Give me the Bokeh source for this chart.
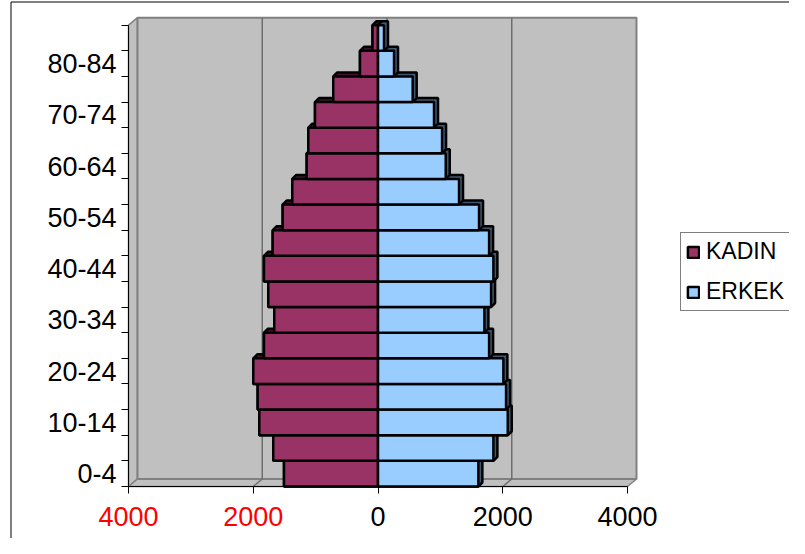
from bokeh.plotting import figure
from bokeh.models import Range1d, FixedTicker, Legend, LegendItem, LinearAxis
from bokeh.embed import file_html
from bokeh.resources import INLINE

# ---- data ----
age_groups = ["0-4", "5-9", "10-14", "15-19", "20-24", "25-29", "30-34", "35-39",
              "40-44", "45-49", "50-54", "55-59", "60-64", "65-69", "70-74",
              "75-79", "80-84", "85+"]
kadin = [1507, 1679, 1903, 1929, 1999, 1828, 1663, 1759, 1828, 1688, 1528, 1374,
         1143, 1117, 1010, 717, 289, 88]
erkek = [1609, 1850, 2080, 2053, 2010, 1781, 1706, 1813, 1850, 1781, 1620, 1299,
         1086, 1027, 898, 556, 257, 96]
series_names = ["KADIN", "ERKEK"]
series_colors = ["#993366", "#99CCFF"]
series_side_colors = ["#3d1428", "#3f5770"]
x_ticks = [-4000, -2000, 0, 2000, 4000]
x_tick_labels = ["4000", "2000", "0", "2000", "4000"]
x_tick_colors = ["#FF0000", "#FF0000", "#000000", "#000000", "#000000"]

# ---- layout (pixels, measured from the canvas top-left) ----
W, H = 789, 538
AX_LEFT, AX_RIGHT = 128.0, 627.0      # pixel x of first / last x tick
AX_BOTTOM, AX_TOP = 486.0, 24.7       # pixel y of category axis ends
XMIN, XMAX = x_ticks[0], x_ticks[-1]
n = len(age_groups)
YMIN, YMAX = -0.5, n - 0.5

sx = (AX_RIGHT - AX_LEFT) / (XMAX - XMIN)
sy = (AX_BOTTOM - AX_TOP) / (YMAX - YMIN)
x_start = XMIN - AX_LEFT / sx
x_end = x_start + W / sx
y_start = YMIN - (H - AX_BOTTOM) / sy
y_end = y_start + H / sy


def px_x(px):
    return x_start + px / sx


def px_y(py):
    return y_end - py / sy


FONT = "Liberation Sans"

p = figure(width=W, height=H, x_range=Range1d(x_start, x_end),
           y_range=Range1d(y_start, y_end),
           output_backend="svg", toolbar_location=None,
           x_axis_location=None, y_axis_location=None,
           min_border=0, min_border_left=0, min_border_right=0,
           min_border_top=0, min_border_bottom=0)
p.grid.visible = False
p.outline_line_color = None
p.background_fill_color = "white"
p.border_fill_color = "white"

# ---- outer chart frame (left and top edges visible) ----
p.segment(x0=[px_x(10.5), px_x(10.5)], y0=[px_y(1.5), px_y(1.5)],
          x1=[px_x(10.5), px_x(W + 5)], y1=[px_y(H + 5), px_y(1.5)],
          line_color="black", line_width=1)

# ---- 3D walls ----
wx = 9 / sx
wy = 7.5 / sy
p.patch([XMIN, XMIN, XMIN + wx, XMIN + wx], [YMIN, YMAX, YMAX + wy, YMIN + wy],
        fill_color="#C0C0C0", line_color="#808080", line_width=1.5)
p.patch([XMIN, XMAX, XMAX + wx, XMIN + wx], [YMIN, YMIN, YMIN + wy, YMIN + wy],
        fill_color="#C0C0C0", line_color="#808080", line_width=1.5)
p.quad(left=XMIN + wx, right=XMAX + wx, bottom=YMIN + wy, top=YMAX + wy,
       fill_color="#C0C0C0", line_color="#808080", line_width=2)
grid_x = x_ticks[1:-1]
p.segment(x0=[g + wx for g in grid_x], y0=[YMIN + wy] * len(grid_x),
          x1=[g + wx for g in grid_x], y1=[YMAX + wy] * len(grid_x),
          line_color="#6e6e6e", line_width=1.5)
p.segment(x0=grid_x, y0=[YMIN] * len(grid_x),
          x1=[g + wx for g in grid_x], y1=[YMIN + wy] * len(grid_x),
          line_color="#6e6e6e", line_width=1.5)

# ---- bars ----
ys = list(range(n))
dx = 4 / sx
dy = 4 / sy


def extrusion(x0s, x1s):
    xs_, ys_ = [], []
    for x0, x1, yc in zip(x0s, x1s, ys):
        b, t = yc - 0.5, yc + 0.5
        xs_.append([x0, x1, x1 + dx, x1 + dx, x0 + dx, x0])
        ys_.append([b, b, b + dy, t + dy, t + dy, t])
    return xs_, ys_


fx, fy = extrusion([-v for v in kadin], [0] * n)
mx, my = extrusion([0] * n, erkek)
p.patches(fx, fy, fill_color=series_side_colors[0], line_color="black", line_width=2.5)
p.patches(mx, my, fill_color=series_side_colors[1], line_color="black", line_width=2.5)

rf = p.quad(left=[-v for v in kadin], right=0, bottom=[y - 0.5 for y in ys],
            top=[y + 0.5 for y in ys], fill_color=series_colors[0],
            line_color="black", line_width=2.5)
rm = p.quad(left=0, right=erkek, bottom=[y - 0.5 for y in ys],
            top=[y + 0.5 for y in ys], fill_color=series_colors[1],
            line_color="black", line_width=2.5)

# ---- y axis ----
ya = LinearAxis(fixed_location=XMIN, bounds=(YMIN, YMAX),
                ticker=FixedTicker(ticks=list(range(0, n, 2)),
                                   minor_ticks=[i - 0.5 for i in range(n + 1)]))
ya.major_label_overrides = {i: age_groups[i] for i in range(0, n, 2)}
ya.axis_line_color = "black"
ya.major_tick_line_color = None
ya.major_tick_out = 0
ya.major_tick_in = 0
ya.minor_tick_line_color = "black"
ya.minor_tick_out = 7
ya.minor_tick_in = 0
ya.major_label_standoff = 5
ya.major_label_text_font = FONT
ya.major_label_text_font_size = "27px"
ya.major_label_text_color = "black"
p.add_layout(ya, "left")

# ---- x axes (black labels for >= 0, red labels for negatives) ----
red_ticks = [t for t, c in zip(x_ticks, x_tick_colors) if c != "#000000"]

xa = LinearAxis(fixed_location=YMIN, bounds=(XMIN, XMAX),
                ticker=FixedTicker(ticks=x_ticks, minor_ticks=[]))
xa.major_label_overrides = {t: (lab if c == "#000000" else "")
                            for t, lab, c in zip(x_ticks, x_tick_labels, x_tick_colors)}
xa.axis_line_color = "black"
xa.major_tick_line_color = "black"
xa.major_tick_out = 7
xa.major_tick_in = 0
xa.minor_tick_line_color = None
xa.major_label_standoff = 13
xa.major_label_text_font = FONT
xa.major_label_text_font_size = "27px"
xa.major_label_text_color = "black"
p.add_layout(xa, "below")

xr = LinearAxis(fixed_location=YMIN,
                ticker=FixedTicker(ticks=red_ticks, minor_ticks=[]))
xr.major_label_overrides = {t: lab for t, lab, c in zip(x_ticks, x_tick_labels, x_tick_colors)
                            if c != "#000000"}
xr.axis_line_color = None
xr.major_tick_line_color = None
xr.major_tick_out = 7
xr.major_tick_in = 0
xr.minor_tick_line_color = None
xr.major_label_standoff = 13
xr.major_label_text_font = FONT
xr.major_label_text_font_size = "27px"
xr.major_label_text_color = "#FF0000"
p.add_layout(xr, "below")

# ---- legend ----
legend = Legend(items=[LegendItem(label=series_names[0], renderers=[rf]),
                       LegendItem(label=series_names[1], renderers=[rm])],
                location=(680, H - 311), padding=5, spacing=13, margin=0,
                glyph_width=14, glyph_height=14, label_standoff=6,
                label_text_font=FONT, label_text_font_size="23px",
                label_text_color="black",
                border_line_color="black", border_line_width=1,
                background_fill_color="white", background_fill_alpha=1.0)
p.add_layout(legend, "center")

open("out.html", "w").write(file_html(p, INLINE))
